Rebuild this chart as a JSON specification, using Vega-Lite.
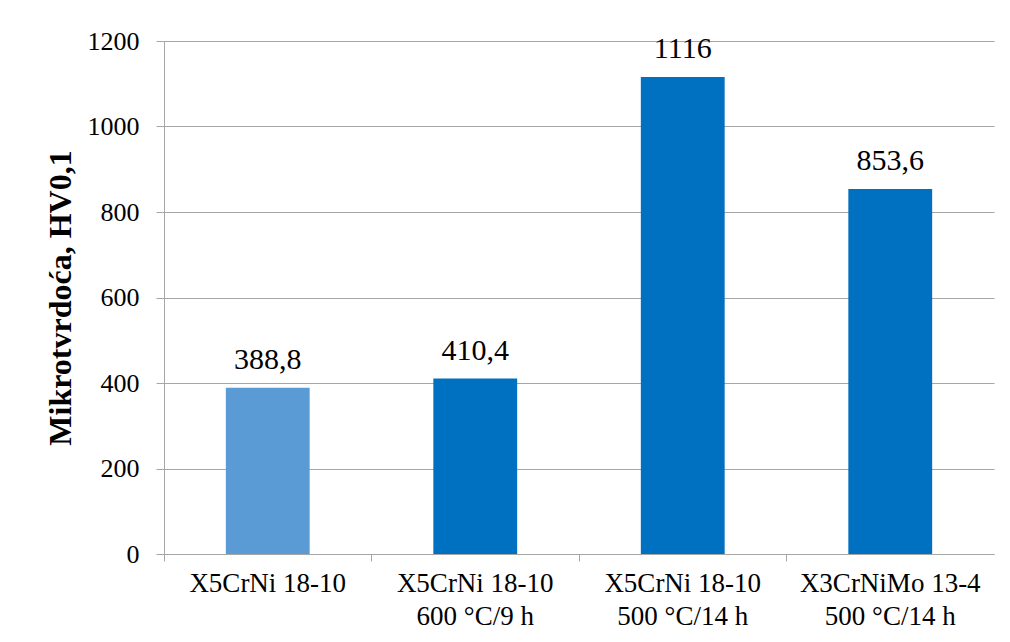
{
  "$schema": "https://vega.github.io/schema/vega-lite/v6.json",
  "autosize": "none",
  "padding": {"left": 164, "top": 41, "right": 16, "bottom": 89},
  "width": 830,
  "height": 513,
  "background": "white",
  "config": {
    "locale": {"number": {"decimal": ",", "thousands": "", "grouping": [3], "currency": ["", ""]}},
    "view": {"stroke": null},
    "font": "Times New Roman, Liberation Serif, serif",
    "text": {"font": "Times New Roman, Liberation Serif, serif"},
    "axis": {"labelFont": "Times New Roman, Liberation Serif, serif", "titleFont": "Times New Roman, Liberation Serif, serif", "labelColor": "black", "titleColor": "black"}
  },
  "data": {
    "values": [
      {"sample": "X5CrNi 18-10", "hardness": 388.8, "group": "base"},
      {"sample": "X5CrNi 18-10|600 °C/9 h", "hardness": 410.4, "group": "treated"},
      {"sample": "X5CrNi 18-10|500 °C/14 h", "hardness": 1116, "group": "treated"},
      {"sample": "X3CrNiMo 13-4|500 °C/14 h", "hardness": 853.6, "group": "treated"}
    ]
  },
  "encoding": {
    "x": {
      "field": "sample",
      "type": "nominal",
      "sort": null,
      "scale": {"paddingInner": 0, "paddingOuter": 0},
      "axis": {
        "title": null,
        "labelAngle": 0,
        "labelExpr": "split(datum.label, '|')",
        "labelFont": "Times New Roman, Liberation Serif, serif",
        "labelFontSize": 27,
        "labelLineHeight": 33,
        "labelPadding": 9,
        "labelLimit": 400,
        "labelBaseline": "top",
        "bandPosition": 0,
        "ticks": true,
        "tickSize": 7,
        "tickColor": "#a6a6a6",
        "domainColor": "#a6a6a6",
        "domainWidth": 1,
        "grid": false
      }
    },
    "y": {
      "field": "hardness",
      "type": "quantitative",
      "scale": {"domain": [0, 1200], "nice": false},
      "axis": {
        "title": "Mikrotvrdoća, HV0,1",
        "titleFont": "Times New Roman, Liberation Serif, serif",
        "titleFontSize": 32,
        "titleFontWeight": "bold",
        "titlePadding": 10,
        "values": [0, 200, 400, 600, 800, 1000, 1200],
        "format": "d",
        "labelFont": "Times New Roman, Liberation Serif, serif",
        "labelFontSize": 26,
        "labelPadding": 17,
        "tickSize": 8,
        "tickColor": "#a6a6a6",
        "domainColor": "#a6a6a6",
        "gridColor": "#a6a6a6",
        "grid": true
      }
    }
  },
  "layer": [
    {
      "mark": {"type": "bar", "width": {"band": 0.404}},
      "encoding": {
        "color": {
          "field": "group",
          "type": "nominal",
          "scale": {"domain": ["base", "treated"], "range": ["#5b9bd5", "#0070c0"]},
          "legend": null
        }
      }
    },
    {
      "mark": {"type": "text", "baseline": "alphabetic", "dy": -19, "fontSize": 30, "color": "black", "font": "Times New Roman, Liberation Serif, serif"},
      "encoding": {
        "text": {"field": "hardness", "type": "quantitative", "format": ".1~f"}
      }
    }
  ]
}
